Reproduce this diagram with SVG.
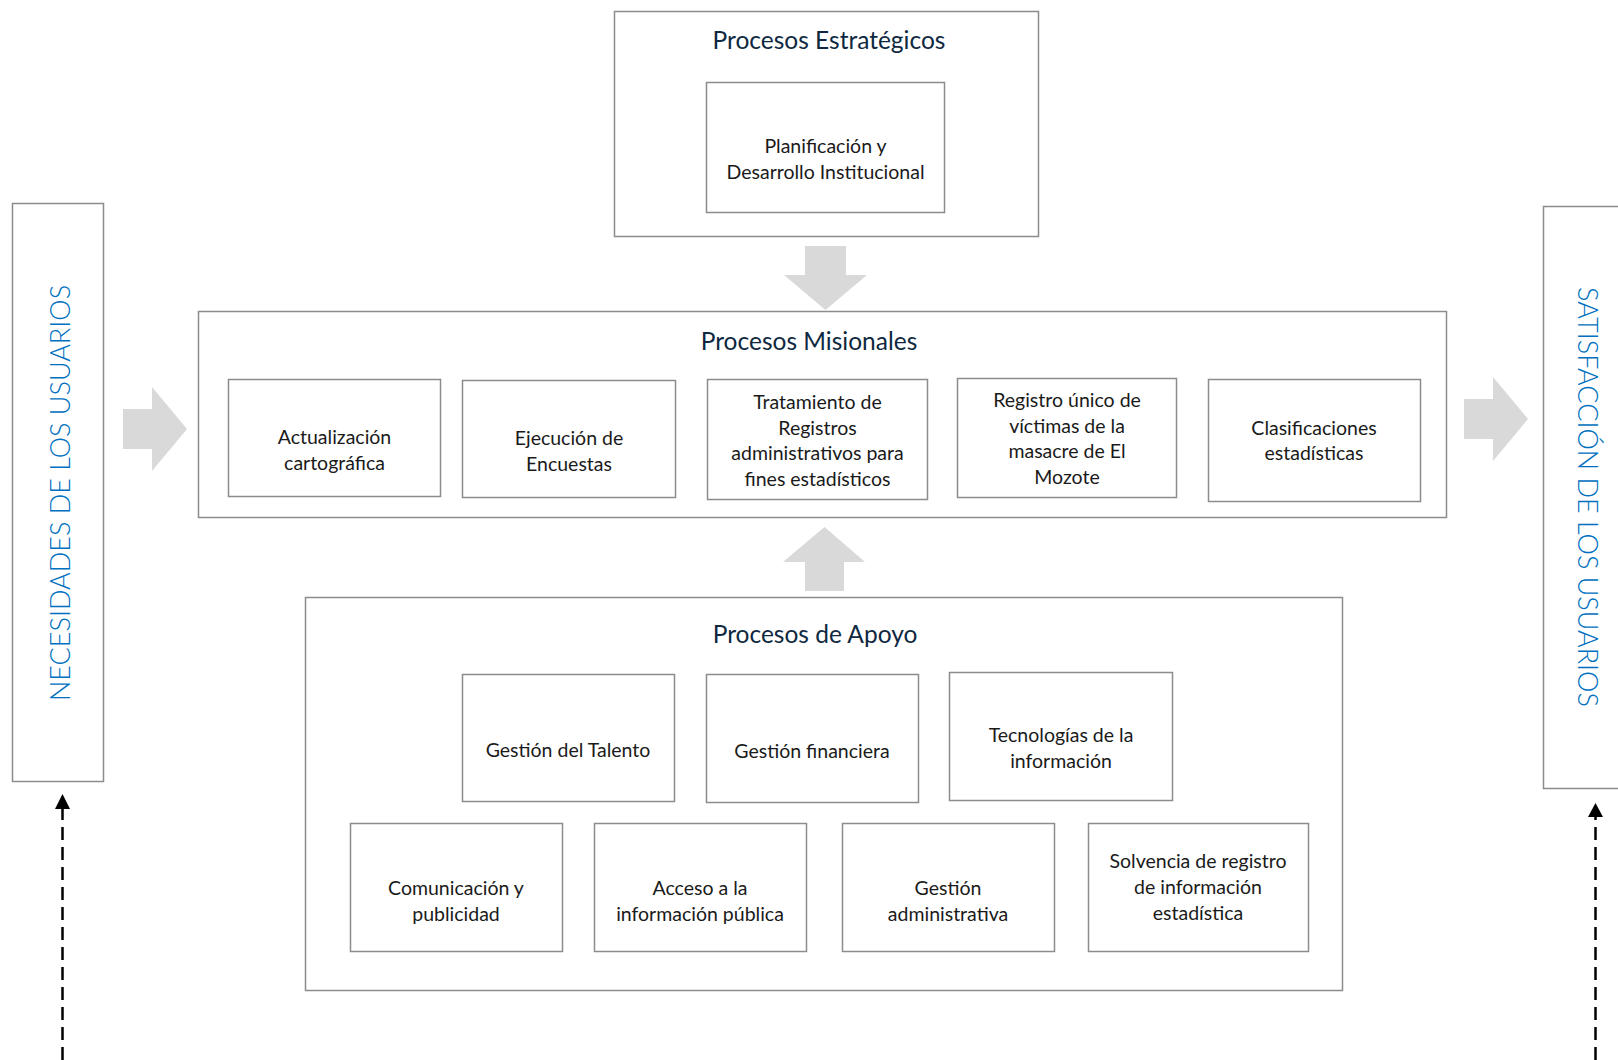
<svg xmlns="http://www.w3.org/2000/svg" width="1618" height="1060" viewBox="0 0 1618 1060">
<style>
  .box { fill: #ffffff; stroke: #8c8c8c; stroke-width: 1.5; }
  .t { font-family: Lato, "Liberation Sans", sans-serif; font-size: 19.5px; fill: #1a1a1a; text-anchor: middle; }
  .title { font-family: Lato, "Liberation Sans", sans-serif; font-size: 24.5px; fill: #0e2841; text-anchor: middle; }
  .vt { font-family: Lato, "Liberation Sans", sans-serif; font-size: 27px; font-weight: 300; fill: #0070c0; text-anchor: middle; }
  .big { fill: #d9d9d9; stroke: none; }
  .dash { stroke: #000000; stroke-width: 2.5; stroke-dasharray: 13 7; fill: none; }
</style>
<rect width="1618" height="1060" fill="#ffffff"/>

<g id="necesidades">
  <rect class="box" x="12.5" y="203.5" width="91" height="578"/>
  <text class="vt" transform="translate(70 493) rotate(-90)" x="0" y="0">NECESIDADES DE LOS USUARIOS</text>
</g>

<g id="satisfaccion">
  <rect class="box" x="1543.5" y="206.5" width="90" height="582"/>
  <text class="vt" transform="translate(1578 497) rotate(90)" x="0" y="0">SATISFACCIÓN DE LOS USUARIOS</text>
</g>

<g id="estrategicos">
  <rect class="box" x="614.5" y="11.5" width="424" height="225"/>
  <text class="title" x="829" y="49">Procesos Estratégicos</text>
  <g id="planificacion">
    <rect class="box" x="706.5" y="82.5" width="238" height="130"/>
    <text class="t" x="825.5" y="153">Planificación y</text>
    <text class="t" x="825.5" y="179">Desarrollo Institucional</text>
  </g>
</g>

<g id="misionales">
  <rect class="box" x="198.5" y="311.5" width="1248" height="206"/>
  <text class="title" x="809" y="350">Procesos Misionales</text>
  <g id="actualizacion">
    <rect class="box" x="228.5" y="379.5" width="212" height="117"/>
    <text class="t" x="334.5" y="444">Actualización</text>
    <text class="t" x="334.5" y="470">cartográfica</text>
  </g>
  <g id="ejecucion">
    <rect class="box" x="462.5" y="380.5" width="213" height="117"/>
    <text class="t" x="569" y="445">Ejecución de</text>
    <text class="t" x="569" y="471">Encuestas</text>
  </g>
  <g id="tratamiento">
    <rect class="box" x="707.5" y="379.5" width="220" height="120"/>
    <text class="t" x="817.5" y="409">Tratamiento de</text>
    <text class="t" x="817.5" y="435">Registros</text>
    <text class="t" x="817.5" y="460">administrativos para</text>
    <text class="t" x="817.5" y="486">fines estadísticos</text>
  </g>
  <g id="registro">
    <rect class="box" x="957.5" y="378.5" width="219" height="119"/>
    <text class="t" x="1067" y="407">Registro único de</text>
    <text class="t" x="1067" y="433">víctimas de la</text>
    <text class="t" x="1067" y="458">masacre de El</text>
    <text class="t" x="1067" y="484">Mozote</text>
  </g>
  <g id="clasificaciones">
    <rect class="box" x="1208.5" y="379.5" width="212" height="122"/>
    <text class="t" x="1314" y="435">Clasificaciones</text>
    <text class="t" x="1314" y="460">estadísticas</text>
  </g>
</g>

<g id="apoyo">
  <rect class="box" x="305.5" y="597.5" width="1037" height="393"/>
  <text class="title" x="815" y="643">Procesos de Apoyo</text>
  <g id="talento">
    <rect class="box" x="462.5" y="674.5" width="212" height="127"/>
    <text class="t" x="568" y="757">Gestión del Talento</text>
  </g>
  <g id="financiera">
    <rect class="box" x="706.5" y="674.5" width="212" height="128"/>
    <text class="t" x="812" y="758">Gestión financiera</text>
  </g>
  <g id="tecnologias">
    <rect class="box" x="949.5" y="672.5" width="223" height="128"/>
    <text class="t" x="1061" y="742">Tecnologías de la</text>
    <text class="t" x="1061" y="768">información</text>
  </g>
  <g id="comunicacion">
    <rect class="box" x="350.5" y="823.5" width="212" height="128"/>
    <text class="t" x="456" y="895">Comunicación y</text>
    <text class="t" x="456" y="921">publicidad</text>
  </g>
  <g id="acceso">
    <rect class="box" x="594.5" y="823.5" width="212" height="128"/>
    <text class="t" x="700" y="895">Acceso a la</text>
    <text class="t" x="700" y="921">información pública</text>
  </g>
  <g id="administrativa">
    <rect class="box" x="842.5" y="823.5" width="212" height="128"/>
    <text class="t" x="948" y="895">Gestión</text>
    <text class="t" x="948" y="921">administrativa</text>
  </g>
  <g id="solvencia">
    <rect class="box" x="1088.5" y="823.5" width="220" height="128"/>
    <text class="t" x="1198" y="868">Solvencia de registro</text>
    <text class="t" x="1198" y="894">de información</text>
    <text class="t" x="1198" y="920">estadística</text>
  </g>
</g>

<g id="connectors">
  <polygon class="big" points="805,246 846,246 846,275 867,275 825.5,310 784,275 805,275"/>
  <polygon class="big" points="805,591 844,591 844,562 865,562 824.5,527 783,562 805,562"/>
  <polygon class="big" points="123,409 152,409 152,387 187,429 152,471 152,449 123,449"/>
  <polygon class="big" points="1464,399 1493,399 1493,377 1528,419 1493,461 1493,439 1464,439"/>
  <line class="dash" x1="62.5" y1="1060" x2="62.5" y2="809" stroke-dashoffset="0"/>
  <polygon points="62.5,794 55,809 70,809" fill="#000000"/>
  <line class="dash" x1="1595.5" y1="1060" x2="1595.5" y2="817"/>
  <polygon points="1595.5,803 1588,817 1603,817" fill="#000000"/>
</g>
</svg>
